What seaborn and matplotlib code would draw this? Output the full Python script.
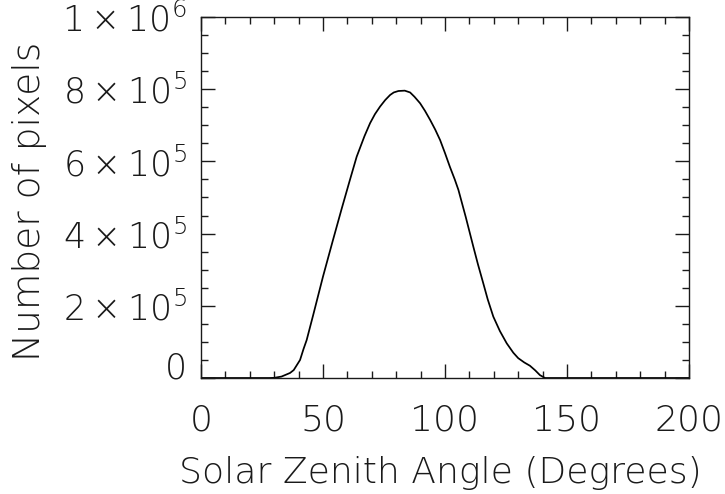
import matplotlib
matplotlib.use("Agg")
import matplotlib.pyplot as plt
from matplotlib import font_manager
from matplotlib.ticker import MultipleLocator, FixedLocator, FixedFormatter
import seaborn as sns
import pandas as pd

# Pixel counts per solar zenith angle
zenith_deg = [0, 10, 20, 28, 30, 33, 36.5, 38, 40.6, 42, 43.3, 46, 50, 54, 57.7,
              61, 63.8, 67, 69.3, 71.3, 73.4, 75.5, 77.5, 79, 80.9, 83.5, 85.7,
              87.5, 89.8, 91.8, 93.9, 96, 98, 100, 102, 104, 105.5, 108.5, 111.6,
              113.5, 115.7, 117.5, 119.8, 122.5, 125.3, 128, 130, 132.5, 134.8,
              137, 138.9, 141, 150, 170, 200]
pixel_count = [0, 0, 0, 0, 500, 4000, 14000, 22000, 50000, 80000, 105000, 175000,
               281000, 380000, 470000, 548000, 613000, 670000, 706000, 731000,
               752000, 770000, 784000, 791000, 795000, 796000, 791000, 779000,
               761000, 740000, 715000, 688000, 659000, 623000, 585000, 550000,
               521000, 446000, 364000, 315000, 262000, 218000, 170000, 130000,
               96000, 70000, 55000, 43000, 34000, 21000, 8000, 0, 0, 0, 0]

x_ticks = [0, 50, 100, 150, 200]
y_ticks = [0, 2e5, 4e5, 6e5, 8e5, 1e6]
y_tick_labels = ["0", r"$\mathregular{2\times10^{5}}$", r"$\mathregular{4\times10^{5}}$",
                 r"$\mathregular{6\times10^{5}}$", r"$\mathregular{8\times10^{5}}$",
                 r"$\mathregular{1\times10^{6}}$"]

df = pd.DataFrame({"zenith": zenith_deg, "count": pixel_count})


def pick_thin_font():
    """Return (family, weight) of the thinnest available sans face."""
    prefs = ["DejaVu Sans", "Open Sans", "Lato", "Roboto", "Inter", "Noto Sans"]
    for fam in prefs:
        best = None
        for f in font_manager.fontManager.ttflist:
            if f.name != fam or f.style != "normal":
                continue
            w = f.weight
            if isinstance(w, str):
                w = font_manager.weight_dict.get(w, 400)
            if 200 <= w < 400 and (best is None or w < best):
                best = w
        if best is not None:
            return fam, best
    return "DejaVu Sans", 400


sns.set_theme(style="ticks")
family, weight = pick_thin_font()
plt.rcParams["font.family"] = [family, "DejaVu Sans"]
plt.rcParams["font.weight"] = weight
plt.rcParams["mathtext.fontset"] = "custom"
for key in ("mathtext.rm", "mathtext.it", "mathtext.bf"):
    plt.rcParams[key] = f"{family}:weight={weight}"

ink = "#1a1a1a"

fig = plt.figure(figsize=(7.25, 4.94), dpi=100)
ax = fig.add_axes([201 / 725, 1 - 378 / 494, 488 / 725, 361 / 494])

sns.lineplot(data=df, x="zenith", y="count", ax=ax, color="black", linewidth=1.25)

ax.set_xlim(0, 200)
ax.set_ylim(0, 1e6)
ax.xaxis.set_major_locator(FixedLocator(x_ticks))
ax.xaxis.set_minor_locator(MultipleLocator(10))
ax.yaxis.set_major_locator(FixedLocator(y_ticks))
ax.yaxis.set_major_formatter(FixedFormatter(y_tick_labels))
ax.yaxis.set_minor_locator(MultipleLocator(5e4))

for side in ["top", "right", "bottom", "left"]:
    ax.spines[side].set_visible(True)
    ax.spines[side].set_linewidth(1.0)
    ax.spines[side].set_color(ink)

ax.tick_params(which="both", direction="in", top=True, right=True, color=ink,
               width=1.0, labelcolor=ink)
ax.tick_params(which="major", length=10)
ax.tick_params(which="minor", length=5)
ax.tick_params(axis="x", which="major", pad=18, labelsize=26)
ax.tick_params(axis="y", which="major", pad=10, labelsize=25)

# the zero label sits on the baseline so it stays inside the axis range
ax.yaxis.get_major_ticks()[0].label1.set_verticalalignment("baseline")

ax.set_xlabel("Solar Zenith Angle (Degrees)", fontsize=26, color=ink,
              fontweight=weight)
ax.set_ylabel("Number of pixels", fontsize=27, color=ink, fontweight=weight)
ax.xaxis.set_label_coords(0.49, -0.215)
ax.yaxis.set_label_coords(-0.315, 0.49)

fig.savefig("out.png", dpi=100)
